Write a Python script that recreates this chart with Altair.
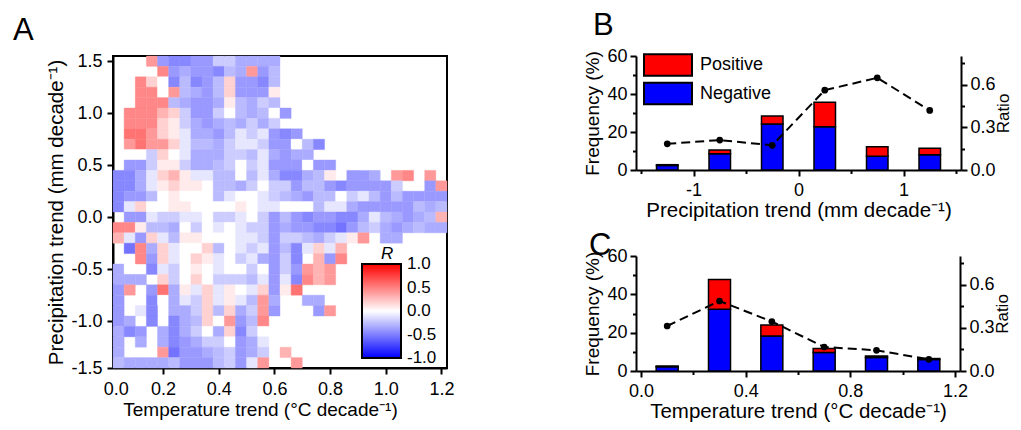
import altair as alt
import pandas as pd

FONT = "Liberation Sans"
MINUS = "\u2212"
NBSP = "\u00a0"
ZWSP = "\u200b"

# ---------------- Panel A: gridded correlation R ----------------
temp_edges = [0.02, 0.06, 0.10, 0.14, 0.18, 0.22, 0.26, 0.30, 0.34, 0.38, 0.42,
              0.46, 0.50, 0.54, 0.58, 0.62, 0.66, 0.70, 0.74, 0.78, 0.82, 0.86,
              0.90, 0.94, 0.98, 1.02, 1.06, 1.10, 1.14, 1.18, 1.22]
precip_edges = [1.55, 1.45, 1.35, 1.25, 1.15, 1.05, 0.95, 0.85, 0.75, 0.65, 0.55,
                0.45, 0.35, 0.25, 0.15, 0.05, -0.05, -0.15, -0.25, -0.35, -0.45,
                -0.55, -0.65, -0.75, -0.85, -0.95, -1.05, -1.15, -1.25, -1.35, -1.45]

# R level per cell ('.' = no data), rows from top (1.5) to bottom (-1.4)
r_levels = {'5': 0.55, '4': 0.47, '3': 0.40, '2': 0.30, '1': 0.18, '0': 0.08,
            'w': 0.0, 'a': -0.10, 'b': -0.20, 'c': -0.27, 'd': -0.33,
            'e': -0.40, 'f': -0.47, 'g': -0.55}
r_rows = [
    "...3effeebbdddd" + "...............",
    "....4edeefcd3ec" + "...............",
    "..41wfcfec1eefc" + "...............",
    "..44w3cdec1eee0" + "...............",
    "..444cdeed0cdbc" + "...............",
    ".44421beebwcdcw" + "e..............",
    ".44410bdedcdbdb" + "...............",
    ".55310addecabae" + "fe.............",
    ".35331accdbaabe" + "ewcf...........",
    ".wwb1wadddbbcad" + "edd............",
    ".eeb00bddcbwbae" + "eewee..........",
    "ffda120aaccwcad" + "ffdc0.eed.34.3.",
    "ffda0100wccdbwb" + "beccefeeeeb..e3",
    "feecw0wwwcawwab" + "cdeccwbaceceeee",
    "fa1ww00wwww0waa" + "wwwcaadeeeeecdc",
    ".eeabbaawbbawbe" + "cefeeffdacdedc2",
    "440ccdwbwawabbe" + "deeffgecbdedcdd",
    "2ae1ac00wwwaabe" + "bbcdba03.dd....",
    ".g4d1aww1cwabae" + "cfa1a2.........",
    "..4e1aw10awbade" + "bf.2e4.........",
    "dw.fabw0wawwbwe" + "be323..........",
    "ddd.1bw1wbbbcae" + "af423..........",
    "e3.e5d0a1a0wa1e" + "05.............",
    "e..fwdab1a0ac3d" + "..dd...........",
    "e.af.ddb1c1db3e" + "...e3..........",
    "ed.f.fdc1w3ec4." + "...............",
    "dfe.dfdbwd1fbw." + "...............",
    "d.d.dfedbbweda." + "...............",
    "d...3geedcbedb." + "2..............",
    "cddddceeecbea3." + ".3.............",
]
r_legend_values = [-0.999, -0.5, 0.0, 0.5, 0.999]

cells = []
for r, row in enumerate(r_rows):
    for k, ch in enumerate(row):
        if ch == '.':
            continue
        cells.append({'t0': temp_edges[k], 't1': temp_edges[k + 1],
                      'p0': precip_edges[r + 1], 'p1': precip_edges[r],
                      'R': r_levels[ch]})
dfA = pd.DataFrame(cells)

r_scale = alt.Scale(domain=[-1, 0, 1], range=['#0000ff', '#ffffff', '#ff0000'], interpolate='rgb')

axA_x = alt.Axis(values=[0.03, 0.2, 0.4, 0.6, 0.8, 1.0, 1.2],
                 labelExpr="datum.value < 0.1 ? '0.0' : format(datum.value, '.1f')",
                 tickOpacity={"condition": {"test": "datum.value < 0.1", "value": 0}, "value": 1},
                 title="Temperature trend (\u00b0C decade\u207b\u00b9)", titleX=147, titleFontSize=19,
                 labelFlush=False, labelOverlap=False, tickSize=6, labelPadding=6, titlePadding=2)
axA_y = alt.Axis(values=[-1.45, -1.0, -0.5, 0.0, 0.5, 1.0, 1.5],
                 labelExpr="datum.value < -1.4 ? '-1.5' : replace(format(datum.value, '.1f'), '" + MINUS + "', '-')",
                 title="Precipitation trend (mm decade\u207b\u00b9)", titleFontSize=20.5,
                 labelOverlap=False, tickSize=6, labelPadding=5, titlePadding=4)

panelA = alt.Chart(dfA).mark_rect(strokeWidth=0.4).encode(
    x=alt.X('t0:Q', scale=alt.Scale(domain=[0.02, 1.22], nice=False, zero=False), axis=axA_x),
    x2='t1:Q',
    y=alt.Y('p0:Q', scale=alt.Scale(domain=[-1.45, 1.55], nice=False, zero=False), axis=axA_y),
    y2='p1:Q',
    color=alt.Color('R:Q', scale=r_scale, legend=alt.Legend(
        title=ZWSP + NBSP * 4 + "R", titleFontStyle='italic', titleFontSize=17, titleFontWeight='normal',
        titleAnchor='start', titleAlign='left', titlePadding=1,
        orient='none', legendX=249, legendY=190, direction='vertical',
        gradientLength=94, gradientThickness=39,
        gradientStrokeColor='black', gradientStrokeWidth=2,
        values=r_legend_values, labelOverlap=False,
        labelExpr="replace(format(datum.value, '.1f'), '" + MINUS + "', '-')",
        labelFontSize=17, labelOffset=6)),
    stroke=alt.Color('R:Q', scale=r_scale, legend=None),
).properties(
    width=334, height=312,
    view=alt.ViewBackground(stroke='black', strokeWidth=2),
    title=alt.TitleParams("A", anchor='start', frame='group', dx=-100, offset=5, fontSize=31, fontWeight='normal'),
)

# ---------------- Panels B and C ----------------
precip_centers = [-1.25, -0.75, -0.25, 0.25, 0.75, 1.25]
b_negative = [2.4, 8.5, 24.2, 22.8, 7.3, 8.0]
b_positive = [0.4, 2.0, 4.2, 12.8, 5.0, 3.4]
b_ratio = [0.184, 0.21, 0.173, 0.56, 0.647, 0.418]

temp_centers = [0.1, 0.3, 0.5, 0.7, 0.9, 1.1]
c_negative = [2.2, 32.2, 18.3, 9.6, 7.0, 6.0]
c_positive = [0.4, 15.6, 5.7, 2.2, 0.8, 0.5]
c_ratio = [0.313, 0.487, 0.344, 0.167, 0.144, 0.081]

freq_ticks = [0, 10, 20, 30, 40, 50, 60]
ratio_ticks = [0, 0.15, 0.3, 0.45, 0.6, 0.75]


def minor_test(step):
    return f"abs(datum.value/{step} - round(datum.value/{step})) > 0.001"


def bar_panel(centers, neg, pos, ratio, xdom, xvals, xstep, xfmt, xtitle, letter, w, h, bar_px, legend,
              t_dx, t_off):
    df = pd.DataFrame({
        'center': centers + centers,
        'freq': neg + pos,
        'type': ['Negative'] * len(centers) + ['Positive'] * len(centers),
        'ord': [0] * len(centers) + [1] * len(centers),
    })
    dfr = pd.DataFrame({'center': centers, 'ratio': ratio})
    xt = minor_test(xstep)
    xaxis = alt.Axis(values=xvals, title=xtitle, titleFontSize=20.5,
                     labelExpr=f"{xt} ? '' : replace(format(datum.value, '{xfmt}'), '{MINUS}', '-')",
                     tickSize={"condition": {"test": xt, "value": 3.5}, "value": 6},
                     labelFlush=False, labelOverlap=False, labelPadding=5, titlePadding=1)
    xenc = alt.X('center:Q', scale=alt.Scale(domain=xdom, nice=False, zero=False), axis=xaxis)
    yt = minor_test(20)
    yaxis = alt.Axis(values=freq_ticks, title="Frequency (%)",
                     labelExpr=f"{yt} ? '' : datum.label",
                     tickSize={"condition": {"test": yt, "value": 3.5}, "value": 6},
                     labelOverlap=False, labelPadding=3, titlePadding=4)
    rt = minor_test(0.3)
    raxis = alt.Axis(values=ratio_ticks, title="Ratio", orient='right', titleAngle=270, titleBaseline='top',
                     titleFontSize=17,
                     labelExpr=f"{rt} ? '' : format(datum.value, '.1f')",
                     tickSize={"condition": {"test": rt, "value": 3.5}, "value": 6},
                     labelOverlap=False, labelPadding=3, titlePadding=0)
    if legend:
        leg = alt.Legend(title=None, orient='none', legendX=23, legendY=0,
                         symbolType="M-3,-1.35H3V1.35H-3Z", symbolSize=256,
                         symbolStrokeColor='black', symbolStrokeWidth=2, symbolOpacity=1,
                         labelFontSize=18, labelOffset=23, rowPadding=-1.5)
    else:
        leg = None
    bars = alt.Chart(df).mark_bar(size=bar_px, stroke='black', strokeWidth=1.5).encode(
        x=xenc,
        y=alt.Y('freq:Q', stack='zero', scale=alt.Scale(domain=[0, 60], nice=False), axis=yaxis),
        color=alt.Color('type:N', scale=alt.Scale(domain=['Positive', 'Negative'],
                                                  range=['#ff0000', '#0000ff']), legend=leg),
        order=alt.Order('ord:Q'),
    )
    ry = alt.Y('ratio:Q', scale=alt.Scale(domain=[0, 0.8], nice=False), axis=raxis)
    line = alt.Chart(dfr).mark_line(color='black', strokeWidth=2, strokeDash=[9, 5]).encode(x=xenc, y=ry)
    pts = alt.Chart(dfr).mark_point(filled=True, color='black', size=45, opacity=1).encode(x=xenc, y=ry)
    return alt.layer(bars, alt.layer(line, pts)).resolve_scale(y='independent').properties(
        width=w, height=h,
        title=alt.TitleParams(letter, anchor='start', frame='group', dx=t_dx, offset=t_off,
                              fontSize=31, fontWeight='normal'),
    )


panelB = bar_panel(precip_centers, b_negative, b_positive, b_ratio, [-1.5, 1.5],
                   [-1.5, -1.0, -0.5, 0.0, 0.5, 1.0, 1.5], 1, 'd',
                   "Precipitation trend (mm decade\u207b\u00b9)", 'B', 325, 114, 21.5, True, -43, 5)
panelC = bar_panel(temp_centers, c_negative, c_positive, c_ratio, [0, 1.2],
                   [0.0, 0.2, 0.4, 0.6, 0.8, 1.0, 1.2], 0.4, '.1f',
                   "Temperature trend (\u00b0C decade\u207b\u00b9)", 'C', 324, 115, 22, False, -47, -15)

right = alt.vconcat(panelB, panelC, spacing=9).resolve_scale(color='independent')

chart = alt.hconcat(panelA, right, spacing=128).resolve_scale(color='independent').properties(
    padding={"left": 4, "top": 2, "right": 0, "bottom": 0}
).configure(
    font=FONT,
).configure_view(
    stroke=None,
).configure_axis(
    grid=False, domainColor='black', domainWidth=2, tickColor='black', tickWidth=2,
    labelFontSize=18, titleFontSize=19, titleFontWeight='normal', labelColor='black', titleColor='black',
    labelFont=FONT, titleFont=FONT,
).configure_title(
    font=FONT, color='black',
).configure_legend(
    labelFont=FONT, titleFont=FONT, labelColor='black', titleColor='black',
)

chart.save("out.html", embed_options={"renderer": "svg", "actions": False})
